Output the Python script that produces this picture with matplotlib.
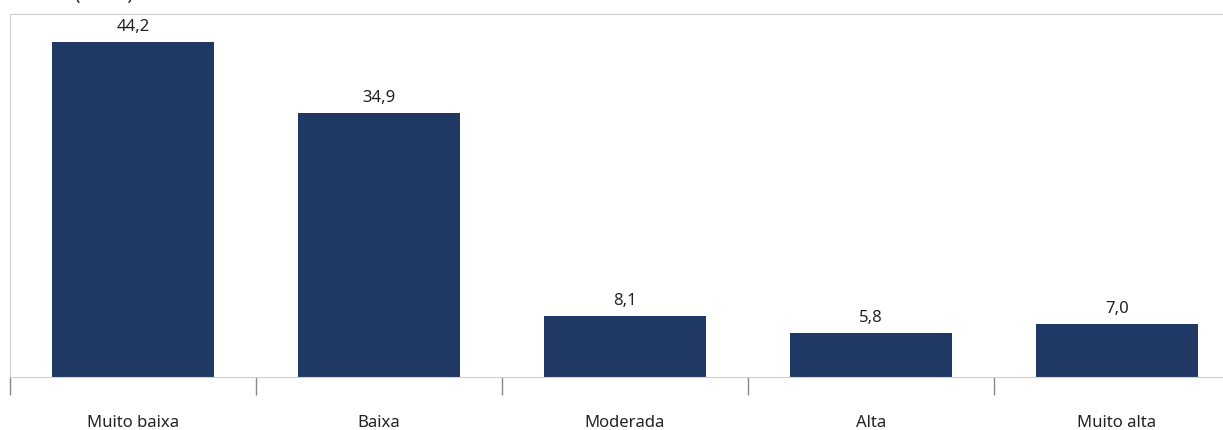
import matplotlib.pyplot as plt
import numpy as np

categorias = ['Muito baixa', 'Baixa', 'Moderada', 'Alta', 'Muito alta']
valores = [44.2, 34.9, 8.1, 5.8, 7.0]
rotulos = ['44,2', '34,9', '8,1', '5,8', '7,0']

plt.rcParams['font.family'] = ['Noto Sans', 'DejaVu Sans']

fig = plt.figure(figsize=(12.23, 4.31), dpi=100)
ax = fig.add_axes([10 / 1223, 53 / 431, 1230 / 1223, 363 / 431])

x = np.arange(len(categorias))
barras = ax.bar(x, valores, width=0.66, color='#203864')

for b, r in zip(barras, rotulos):
    ax.text(b.get_x() + b.get_width() / 2, b.get_height() + 1.0, r,
            ha='center', va='bottom', fontsize=12, color='#222222')

ax.set_xlim(-0.5, len(categorias) - 0.5)
ax.set_ylim(0, 47.9)
ax.set_yticks([])

# rótulos nas categorias, traços nos limites
ax.set_xticks(x)
ax.set_xticklabels(categorias, fontsize=12, color='#222222')
ax.tick_params(axis='x', which='major', length=0, pad=27)
ax.set_xticks(np.arange(len(categorias)) - 0.5, minor=True)
ax.tick_params(axis='x', which='minor', length=13, width=1, color='#888888')

for lado in ['top', 'left', 'bottom']:
    ax.spines[lado].set_color('#d0d0d0')
ax.spines['right'].set_visible(False)

# título cortado no topo, como no original
fig.text(75 / 1223, 1.0, '(em %)', fontsize=13, color='#222222',
         va='baseline')

fig.savefig('out.png', dpi=100)
